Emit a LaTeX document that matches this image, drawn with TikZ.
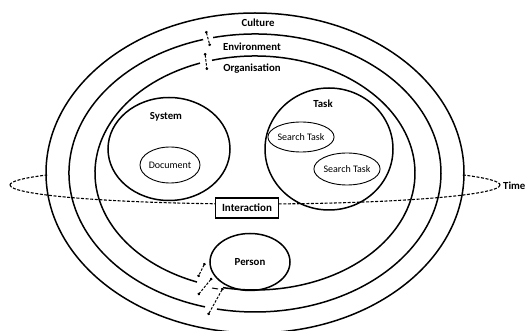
\documentclass[tikz,border=0pt]{standalone}
\usepackage{fontspec}
\setmainfont{Carlito}
\usetikzlibrary{shapes.geometric,arrows.meta}

\tikzset{
  ring/.style={line width=1.5pt},
  blob/.style={draw, ellipse, line width=1.5pt, inner sep=0pt},
  oval/.style={draw, ellipse, line width=0.9pt, inner sep=0pt, font=\fontsize{10}{12}\selectfont},
  lbl/.style={font=\bfseries\fontsize{10.8}{12}\selectfont, inner sep=0pt},
  timeline/.style={line width=1.1pt, dash pattern=on 3pt off 1.6pt},
  seep/.style={line width=1pt, dash pattern=on 2.5pt off 1.5pt, {Circle[length=2.6pt]}-{Circle[length=2.6pt]}}
}

\begin{document}
\begin{tikzpicture}[x=1pt,y=-1pt]
  \useasboundingbox (0,0) rectangle (528,331);

  % time, the upper part hidden behind the rings
  \draw[timeline] (255,185) ++(0:245 and 19) arc[start angle=0, end angle=180, x radius=245, y radius=19];
  \draw[timeline] (255,185) ++(180:245 and 19) arc[start angle=180, end angle=212, x radius=245, y radius=19];
  \draw[timeline] (255,185) ++(328:245 and 19) arc[start angle=328, end angle=360, x radius=245, y radius=19];

  % culture
  \draw[ring] (255,173) ellipse[x radius=209, y radius=160];
  % environment
  \draw[ring] (255,173) ++(257:186 and 139) arc[start angle=257, end angle=461.8, x radius=186, y radius=139];
  \draw[ring] (255,173) ++(105.6:186 and 139) arc[start angle=105.6, end angle=253.8, x radius=186, y radius=139];
  % organisation
  \draw[ring] (255,173) ++(254.4:160 and 117) arc[start angle=254.4, end angle=461.5, x radius=160, y radius=117];
  \draw[ring] (255,173) ++(111.25:160 and 117) arc[start angle=111.25, end angle=249.9, x radius=160, y radius=117];

  \node[lbl] (culture) at (258,23) {Culture};
  \node[lbl] (environment) at (252,47) {Environment};
  \node[lbl] (organisation) at (252,69) {Organisation};

  \node[blob, minimum width=122, minimum height=103] (system) at (169,149) {};
  \node[lbl] (systemlbl) at (166,117) {System};
  \node[oval, minimum width=60, minimum height=36] (document) at (170,165) {Document};

  \node[blob, minimum width=128, minimum height=122] (task) at (329,149) {};
  \node[lbl] (tasklbl) at (323,104) {Task};
  \node[oval, minimum width=62, minimum height=30] (search1) at (301,137) {Search Task};
  \node[oval, minimum width=64, minimum height=32] (search2) at (347,169) {Search Task};

  \node[blob, lbl, minimum width=80, minimum height=57] (person) at (250,262) {Person};

  \node[draw, fill=white, line width=1.3pt, font=\bfseries\fontsize{11}{12}\selectfont,
        minimum width=63, minimum height=20, inner sep=1pt] (interaction) at (247,208) {Interaction};
  \node[lbl, anchor=west] (time) at (503,186) {Time};

  % crossings
  \coordinate (e1) at (206,31);
  \coordinate (e2) at (210,46);
  \coordinate (o1) at (205,53);
  \coordinate (o2) at (207,70);
  \coordinate (p1) at (205,263);
  \coordinate (p2) at (198,277);
  \coordinate (q1) at (212,278);
  \coordinate (q2) at (198,295);
  \coordinate (r1) at (223,288);
  \coordinate (r2) at (208,315);
  \draw[seep] (e1) -- (e2);
  \draw[seep] (o1) -- (o2);
  \draw[seep] (p1) -- (p2);
  \draw[seep] (q1) -- (q2);
  \draw[seep] (r1) -- (r2);
  \draw[line width=1pt] (212,288) -- (218,289);
\end{tikzpicture}
\end{document}
